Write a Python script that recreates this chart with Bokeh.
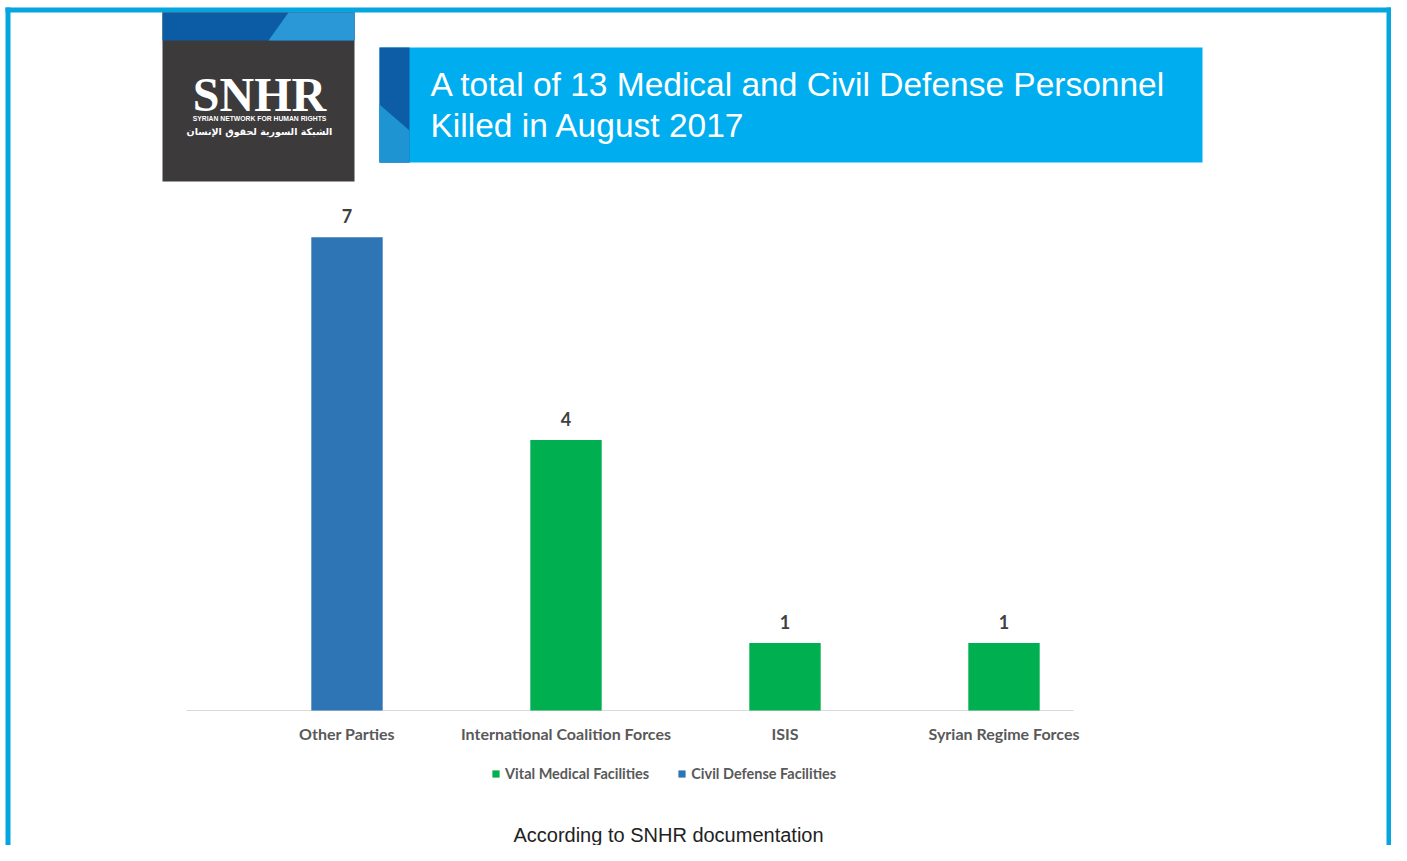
from bokeh.plotting import figure
from bokeh.models import (Range1d, BoxAnnotation, PolyAnnotation, Label,
                          Legend, LegendItem, ColumnDataSource)
from bokeh.core.properties import value
from bokeh.embed import file_html
from bokeh.resources import INLINE

# ---------------- data ----------------
categories = ["Other Parties", "International Coalition Forces", "ISIS", "Syrian Regime Forces"]
vital_medical = [0, 4, 1, 1]
civil_defense = [7, 0, 0, 0]
series_names = ["Vital Medical Facilities", "Civil Defense Facilities"]
title_lines = ["A total of 13 Medical and Civil Defense Personnel", "Killed in August 2017"]
footer_text = "According to SNHR documentation"
logo_text = "SNHR"
logo_sub_en = "SYRIAN NETWORK FOR HUMAN RIGHTS"
logo_sub_ar = "الشبكة السورية لحقوق الإنسان"

# ---------------- layout ----------------
W, H = 1391, 845
BASE_Y = 710        # pixel row of the value axis baseline
UNIT_PX = 67.6      # pixels per unit of value
X0_PX = 346.5       # pixel column of the first category
STEP_PX = 219.0     # pixels between categories

p = figure(width=W, height=H, output_backend="svg", toolbar_location=None,
           x_range=Range1d(-X0_PX / STEP_PX, (W - X0_PX) / STEP_PX),
           y_range=Range1d(-(H - BASE_Y) / UNIT_PX, BASE_Y / UNIT_PX),
           min_border_left=0, min_border_right=0, min_border_top=0, min_border_bottom=0,
           x_axis_location=None, y_axis_location=None, title=None)
p.background_fill_color = "white"
p.border_fill_color = "white"
p.outline_line_color = None
p.xgrid.visible = False
p.ygrid.visible = False

def SX(ix):
    return ix

def SY(iy):
    return H - iy

def box(x0, y0, x1, y1, color, level="underlay"):
    p.add_layout(BoxAnnotation(left=SX(x0), right=SX(x1), top=SY(y0), bottom=SY(y1),
                               left_units="screen", right_units="screen",
                               top_units="screen", bottom_units="screen",
                               fill_color=color, fill_alpha=1, line_color=None,
                               level=level))

def poly(pts, color):
    p.add_layout(PolyAnnotation(xs=[SX(x) for x, _ in pts], ys=[SY(y) for _, y in pts],
                                xs_units="screen", ys_units="screen",
                                fill_color=color, fill_alpha=1, line_color=None,
                                level="underlay"))

# axis baseline
box(186, 709.5, 1073, 710.5, "#D9D9D9")

# ---------------- bars ----------------
GREEN = "#00B050"
BLUE = "#2E75B6"
renderers = []
for vals, color in [(vital_medical, GREEN), (civil_defense, BLUE)]:
    idx = [i for i, v in enumerate(vals) if v > 0]
    src = ColumnDataSource(dict(x=idx, top=[vals[i] for i in idx]))
    r = p.vbar(x="x", top="top", bottom=0, width=0.326, source=src,
               fill_color=color, line_color=None)
    renderers.append(r)

totals = [a + b for a, b in zip(vital_medical, civil_defense)]
lab_src = ColumnDataSource(dict(x=list(range(len(categories))), y=totals,
                                t=[str(v) for v in totals],
                                zero=[0] * len(categories), cat=categories))
p.text(x="x", y="y", text="t", source=lab_src, text_align="center",
       text_baseline="alphabetic", y_offset=-21,
       text_font=value("Lato"), text_font_style="bold",
       text_font_size="18px", text_color="#404040")

# category labels (x axis)
p.text(x="x", y="zero", text="cat", source=lab_src, text_align="center",
       text_baseline="alphabetic", y_offset=23,
       text_font=value("Lato"), text_font_style="bold",
       text_font_size="16px", text_color="#595959")

# ---------------- legend ----------------
legend = Legend(items=[LegendItem(label=series_names[0], renderers=[renderers[0]]),
                       LegendItem(label=series_names[1], renderers=[renderers[1]])],
                orientation="horizontal", location=(SX(491), SY(782)),
                padding=0, margin=0, spacing=28, label_standoff=5,
                glyph_width=9, glyph_height=9, label_height=14,
                border_line_color=None, background_fill_alpha=0,
                label_text_font="Lato", label_text_font_style="bold",
                label_text_font_size="14.5px", label_text_color="#595959")
p.add_layout(legend)

# ---------------- decorations ----------------
BORDER = "#05A5E0"
box(5, 7, 1391, 12, BORDER)      # top
box(5, 7, 10, 845, BORDER)       # left
box(1386, 7, 1391, 845, BORDER)  # right

# logo
box(162, 12, 354, 181, "#3D3A3B")
box(162, 12, 354, 40, "#0B5CA5")
poly([(288, 12), (354, 12), (354, 40), (268, 40)], "#2A97D6")

# title banner
box(379, 47, 1202, 162, "#00AEEF")
box(379, 47, 409, 162, "#0C5DA5")
poly([(379, 104), (409, 130), (409, 162), (379, 162)], "#1E94D2")

def label(ix, iy, text, size, color="white", font="Liberation Sans", style="normal",
          align="left"):
    p.add_layout(Label(x=SX(ix), y=SY(iy), x_units="screen", y_units="screen",
                       text=text, text_font=font, text_font_size=size,
                       text_font_style=style, text_color=color, text_align=align,
                       text_baseline="alphabetic", level="overlay"))

label(430, 84, title_lines[0], "33.5px")
label(430, 125, title_lines[1], "33.5px")

label(259, 94, logo_text, "48px", font="Liberation Serif", style="bold", align="center")
label(259, 118, logo_sub_en, "6.8px", font="Liberation Sans", style="bold", align="center")
label(259, 131, logo_sub_ar, "9.5px", font="DejaVu Sans", style="bold", align="center")

label(668, 834, footer_text, "20px", color="#222222", align="center")

open("out.html", "w").write(file_html(p, INLINE))
